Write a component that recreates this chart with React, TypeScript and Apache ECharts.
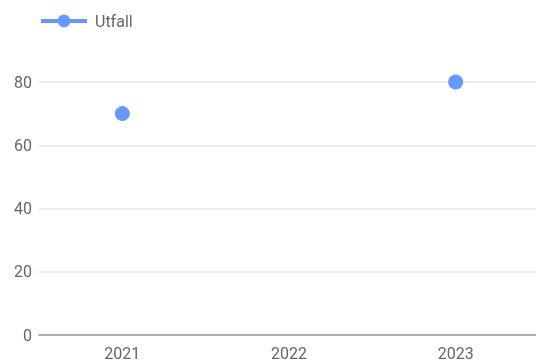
import React, { useEffect, useRef } from "react";
import * as echarts from "echarts";

const categories = ["2021", "2022", "2023"];
const utfall: (number | null)[] = [70, null, 80];
const seriesName = "Utfall";

export default function App() {
  const ref = useRef<HTMLDivElement>(null);
  useEffect(() => {
    if (!ref.current) return;
    const chart = echarts.init(ref.current, undefined, { renderer: "svg" });
    chart.setOption({
      animation: false,
      textStyle: { fontFamily: "Roboto" },
      legend: {
        left: 34,
        top: 8,
        itemWidth: 46,
        itemHeight: 16,
        itemGap: 8,
        lineStyle: { width: 4 },
        textStyle: { fontSize: 16, color: "#666", fontFamily: "Roboto", padding: [0, 0, 0, 3] },
        data: [seriesName],
      },
      grid: { left: 39, right: 0, top: 82, bottom: 27, containLabel: false },
      xAxis: {
        type: "category",
        data: categories,
        boundaryGap: true,
        axisTick: { show: false },
        axisLine: { lineStyle: { color: "#999", width: 1.5 } },
        axisLabel: { fontSize: 16, color: "#666", margin: 10, fontFamily: "Roboto" },
      },
      yAxis: {
        type: "value",
        min: 0,
        max: 80,
        interval: 20,
        axisLabel: { fontSize: 16, color: "#666", margin: 7, fontFamily: "Roboto" },
        splitLine: { lineStyle: { color: "#e6e8ec", width: 1.5 } },
      },
      series: [
        {
          name: seriesName,
          type: "line",
          data: utfall,
          symbol: "circle",
          symbolSize: 15,
          showSymbol: true,
          connectNulls: false,
          itemStyle: { color: "#6699ff" },
          lineStyle: { color: "#6699ff", width: 4 },
        },
      ],
    });
    return () => chart.dispose();
  }, []);
  return (
    <div
      ref={ref}
      style={{ position: "fixed", left: 0, top: 0, width: 539, height: 362 }}
    />
  );
}
